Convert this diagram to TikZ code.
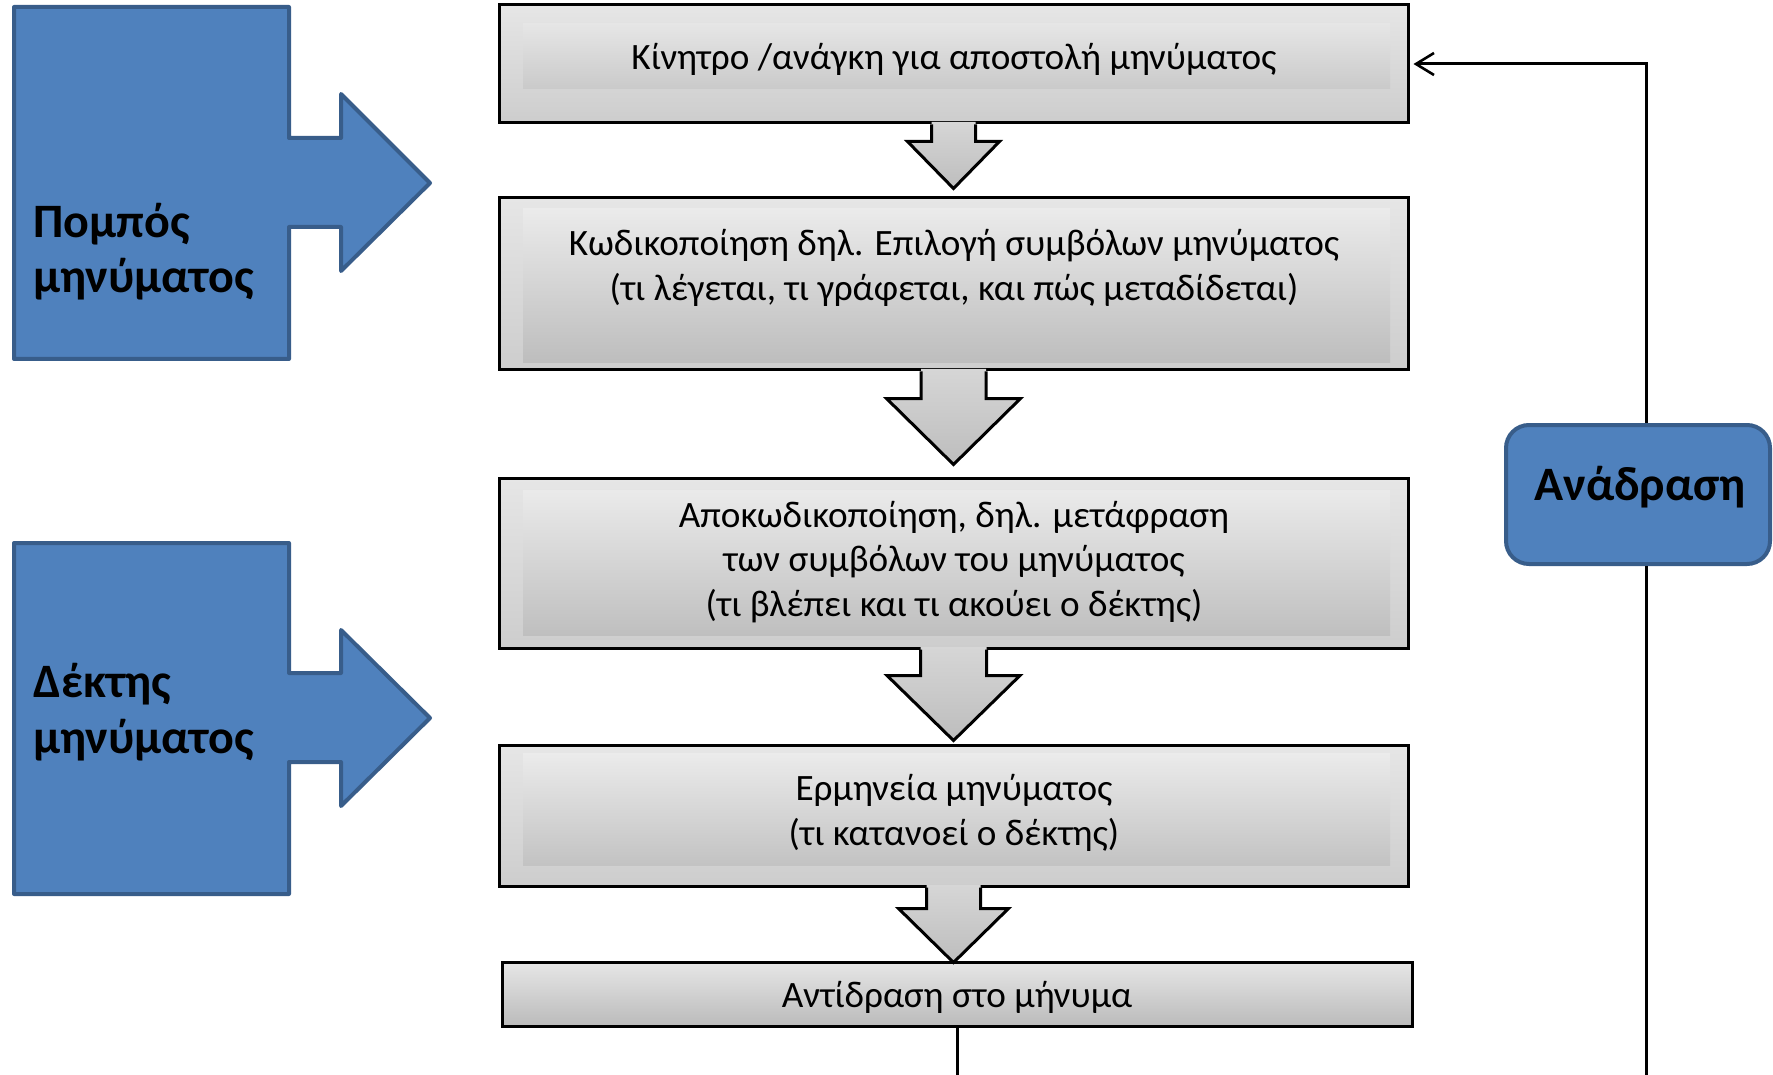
\documentclass[tikz,border=0pt]{standalone}
\usepackage{fontspec}
\setmainfont{Carlito}
\usetikzlibrary{arrows.meta,calc}
\definecolor{bluefill}{HTML}{4F81BD}
\definecolor{blueedge}{HTML}{385D8A}
\definecolor{outtop}{HTML}{E6E6E6}
\definecolor{outbot}{HTML}{CDCDCD}
\definecolor{bandtop}{HTML}{EEEEEE}
\definecolor{bandbot}{HTML}{BBBBBB}
\definecolor{arrtop}{HTML}{D6D6D6}
\definecolor{arrbot}{HTML}{BDBDBD}
\newcommand\downblock[5]{%
  \shade[top color=arrtop,bottom color=arrbot]
    ($(#1.south)+(-#2,-2.5)$) -- ++(0,#4+2.5) -- ++(#2-#3,0) -- ++(#3,#5) -- ++(#3,-#5) -- ++(#2-#3,0) -- ++(0,-#4-2.5) -- cycle;
  \draw[arredge] ($(#1.south)+(-#2,0)$) -- ++(0,#4) -- ++(#2-#3,0) -- ++(#3,#5) -- ++(#3,-#5) -- ++(#2-#3,0) -- ++(0,-#4);
}
\begin{document}
\begin{tikzpicture}[x=0.5pt,y=-0.5pt,
  graybox/.style={draw=black, line width=1.5pt, top color=outtop, bottom color=outbot,
    inner sep=0pt, minimum width=454.5pt},
  band/.style 2 args={path picture={\shade[top color=bandtop,bottom color=bandbot]
      ([xshift=12pt,yshift=-#1]path picture bounding box.north west) rectangle
      ([xshift=-9pt,yshift=#2]path picture bounding box.south east);}},
  boxtext/.style={inner sep=0pt, font=\fontsize{18.6pt}{22.4pt}\selectfont, align=center},
  arredge/.style={draw=black, line width=1.5pt, line join=miter},
  blueshape/.style={fill=bluefill, draw=blueedge, line width=2pt, line join=round},
  bluelabel/.style={inner sep=0pt, font=\fontsize{24pt}{28pt}\selectfont\bfseries, align=left},
  bluebox/.style={fill=bluefill, draw=blueedge, line width=2pt, rounded corners=11.5pt, inner sep=0pt},
  fbline/.style={draw=black, line width=1.5pt}
]
\useasboundingbox (0,0) rectangle (1773,1075);
\fill[white] (0,0) rectangle (1773,1075);

% left blue callouts
\draw[blueshape] (14,7) -- (289,7) -- (289,138) -- (341,138) -- (341,94) -- (430,183)
  -- (341,271) -- (341,227) -- (289,227) -- (289,359) -- (14,359) -- cycle;
\node[bluelabel, anchor=base west] (pomp) at (33,293) {Πομπός\\μηνύματος};
\draw[blueshape] (14,543) -- (289,543) -- (289,673) -- (341,673) -- (341,630) -- (430,718)
  -- (341,806) -- (341,762) -- (289,762) -- (289,894) -- (14,894) -- cycle;
\node[bluelabel, anchor=base west] (dekt) at (33,753) {Δέκτης\\μηνύματος};

% gray boxes
\node[graybox, minimum height=59pt, band={9.5pt}{17pt}] (b1) at (953.5,64) {};
\node[boxtext] (t1) at (954,59.5) {Κίνητρο /ανάγκη για αποστολή μηνύματος};
\node[graybox, minimum height=86pt, band={5.5pt}{3.5pt}] (b2) at (953.5,284) {};
\node[boxtext] (t2) at (954,268) {Κωδικοποίηση δηλ. Επιλογή συμβόλων μηνύματος\\(τι λέγεται, τι γράφεται, και πώς μεταδίδεται)};
\node[graybox, minimum height=85pt, band={6pt}{6.5pt}] (b3) at (953.5,563) {};
\node[boxtext] (t3) at (954,562) {Αποκωδικοποίηση, δηλ. μετάφραση\\των συμβόλων του μηνύματος\\(τι βλέπει και τι ακούει ο δέκτης)};
\node[graybox, minimum height=70.5pt, band={4pt}{10.5pt}] (b4) at (953.5,815.5) {};
\node[boxtext] (t4) at (954,812.5) {Ερμηνεία μηνύματος\\(τι κατανοεί ο δέκτης)};
\node[graybox, minimum width=455pt, minimum height=32pt, top color=outtop, bottom color=bandbot] (b5) at (957,994) {};
\node[boxtext] (t5) at (957,997.5) {Αντίδραση στο μήνυμα};

% block arrows between boxes
\downblock{b1}{22}{46}{17}{47}
\downblock{b2}{32.5}{67}{27}{66}
\downblock{b3}{33}{66.5}{26}{65}
\downblock{b4}{27}{55}{21}{54}

% feedback
\node[bluebox, minimum width=132pt, minimum height=69.5pt] (ana) at (1638,494.5) {};
\node[bluelabel] (anat) at (1640,487) {Ανάδραση};
\coordinate (bot) at (0,1080);
\draw[fbline, -{Straight Barb[length=9pt,width=11pt,line width=1.3pt]}, shorten >=2pt] ([xshift=4pt]ana.north) |- (b1.east);
\draw[fbline] ([xshift=4pt]ana.south) -- ([xshift=4pt]ana.south |- bot);
\draw[fbline] (b5.south) -- (b5.south |- bot);
\end{tikzpicture}
\end{document}
